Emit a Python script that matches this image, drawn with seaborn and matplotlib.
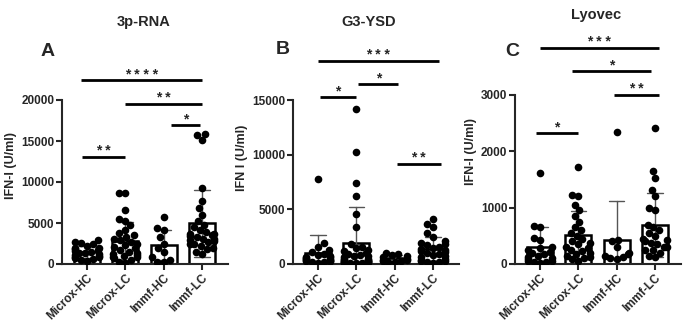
import numpy as np
import pandas as pd
import seaborn as sns
import matplotlib.pyplot as plt

#%% Data
groups = ["Microx-HC", "Microx-LC", "Immf-HC", "Immf-LC"]

# 3p-RNA
rna_microx_hc = [2900, 2700, 2600, 2400, 2200, 2000, 1900, 1800, 1700, 1600, 1500,
                 1400, 1300, 1200, 1100, 1000, 900, 800, 700, 600, 500, 400]
rna_microx_lc = [8700, 8600, 6600, 5500, 5200, 4700, 4200, 3800, 3500, 3300, 3100,
                 2900, 2700, 2500, 2300, 2100, 1900, 1700, 1500, 1300, 1100, 900,
                 700, 500, 200, 100, 1000, 1200, 800]
rna_immf_hc = [5700, 4400, 4200, 3300, 2500, 2000, 1500, 800, 500, 300, 200]
rna_immf_lc = [15900, 15700, 15100, 9300, 7700, 6800, 6000, 5200, 4800, 4500, 4100,
               3900, 3700, 3600, 3500, 3400, 3300, 3100, 3000, 2900, 2700, 2500,
               2200, 1800, 1500, 1200, 2800, 2400, 2000]

# G3-YSD
ysd_microx_hc = [7750, 1900, 1600, 1300, 1100, 900, 800, 700, 650, 600, 550, 500,
                 450, 400, 350, 300, 300, 250, 200, 150, 100]
ysd_microx_lc = [14200, 10200, 7400, 6200, 4600, 3400, 1800, 1600, 1500, 1300, 1000,
                 800, 700, 600, 500, 400, 300, 200, 100, 100, 1200, 900, 700, 500,
                 400, 300, 200, 150, 100, 250, 150, 50]
ysd_immf_hc = [1000, 900, 800, 700, 600, 500, 400, 350, 300, 250, 200, 150]
ysd_immf_lc = [4100, 3700, 3400, 2800, 2500, 2100, 1900, 1800, 1700, 1600, 1500,
               1400, 1300, 1200, 1100, 1000, 900, 800, 700, 600, 500, 400, 300,
               200, 150, 100, 250]

# Lyovec
lyo_microx_hc = [1620, 680, 650, 470, 420, 300, 280, 250, 220, 200, 180, 150, 120,
                 100, 80, 50, 20, 60, 40, 30]
lyo_microx_lc = [1720, 1230, 1200, 1050, 950, 850, 750, 650, 600, 550, 500, 450,
                 400, 380, 350, 300, 280, 250, 230, 200, 180, 150, 120, 100, 80, 50]
lyo_immf_hc = [2340, 430, 400, 300, 200, 180, 150, 120, 100, 80]
lyo_immf_lc = [2420, 1650, 1520, 1320, 1200, 1000, 950, 700, 650, 600, 550, 500,
               450, 420, 400, 380, 350, 300, 250, 200, 150, 120, 300, 250]

# significance bars: (x start, x end, height, label)
rna_sig = [(-0.15, 3.0, 22400, "****"), (1.0, 3.0, 19500, "**"),
           (2.2, 2.95, 16950, "*"), (-0.13, 1.0, 13050, "**")]
ysd_sig = [(0.0, 3.15, 18570, "***"), (0.05, 1.0, 15280, "*"),
           (1.05, 2.1, 16470, "*"), (2.05, 3.2, 9150, "**")]
lyo_sig = [(0.0, 3.1, 3836, "***"), (0.83, 2.9, 3427, "*"),
           (1.92, 3.1, 3000, "**"), (-0.1, 1.0, 2325, "*")]

#%% Style
sns.set_style("ticks")
plt.rcParams['font.family'] = ['Liberation Sans', 'DejaVu Sans']
plt.rcParams['font.weight'] = 'bold'
plt.rcParams['axes.labelweight'] = 'bold'

W, H = 685, 327
fig = plt.figure(figsize=(W / 100, H / 100), dpi=100)
axes = []


def make_df(vals):
    return pd.DataFrame({"group": np.repeat(groups, [len(v) for v in vals]),
                         "ifn": np.concatenate(vals)})


def draw_panel(left_px, tick_top, tick_px, ylim_top, step, vals, sig, ylabel):
    # axes box in pixels -> figure fraction, 0 sits at y=264
    base = 264
    ppu = (base - tick_px) / tick_top
    height = ylim_top * ppu
    ax = fig.add_axes([left_px / W, (H - base) / H, 166 / W, height / H])
    df = make_df(vals)
    sns.barplot(data=df, x="group", y="ifn", order=groups, errorbar="sd",
                width=0.68, color="white", edgecolor="black", linewidth=1.8,
                err_kws={"color": "#555555", "linewidth": 1.0}, capsize=0.4, ax=ax)
    sns.swarmplot(data=df, x="group", y="ifn", order=groups, color="black",
                  size=5.5, ax=ax, warn_thresh=1)
    ax.set_xlim(-0.65, 3.68)
    ax.set_ylim(0, ylim_top)
    ax.set_yticks(np.arange(0, tick_top + 1, step))
    ax.spines['left'].set_bounds(0, tick_top)
    ax.spines['top'].set_visible(False)
    ax.spines['right'].set_visible(False)
    for s in ['left', 'bottom']:
        ax.spines[s].set_linewidth(1.5)
    ax.tick_params(width=1.5, length=4, pad=1.5, labelsize=8.5)
    ax.set_xticks(range(4))
    ax.set_xticklabels(groups, rotation=45, ha="right", rotation_mode="anchor",
                       fontweight="bold")
    for lab in ax.get_yticklabels():
        lab.set_fontweight("bold")
    ax.set_xlabel("")
    ax.set_ylabel(ylabel, fontsize=9, fontweight="bold", labelpad=3)
    for x1, x2, y, stars in sig:
        ax.plot([x1, x2], [y, y], color="black", lw=2, clip_on=False,
                solid_capstyle="butt")
        ax.annotate(" ".join(stars), xy=((x1 + x2) / 2, y), xytext=(0, -1),
                    textcoords="offset points", ha="center", va="bottom",
                    fontsize=10, fontweight="bold", annotation_clip=False)
    axes.append(ax)
    return ax


draw_panel(62, 20000, 100, 24000, 5000,
           [rna_microx_hc, rna_microx_lc, rna_immf_hc, rna_immf_lc], rna_sig,
           "IFN-I (U/ml)")
draw_panel(293, 15000, 100, 19500, 5000,
           [ysd_microx_hc, ysd_microx_lc, ysd_immf_hc, ysd_immf_lc], ysd_sig,
           "IFN I (U/ml)")
draw_panel(515, 3000, 95, 4000, 1000,
           [lyo_microx_hc, lyo_microx_lc, lyo_immf_hc, lyo_immf_lc], lyo_sig,
           "IFN-I (U/ml)")

# panel titles and letters
for x, y, txt in [(144, 22, "3p-RNA"), (369, 22, "G3-YSD"), (596, 15, "Lyovec")]:
    fig.text(x / W, 1 - y / H, txt, ha="center", va="center", fontsize=10.5,
             fontweight="bold")
for x, y, txt in [(48, 52, "A"), (283, 50, "B"), (512, 51, "C")]:
    fig.text(x / W, 1 - y / H, txt, ha="center", va="center", fontsize=14,
             fontweight="bold")

# seaborn lays out the swarms at draw time; run it once, then squeeze the
# swarms so they stay about as wide as the bars (like the prism layout)
fig.canvas.draw()
for ax in axes:
    for coll in ax.collections:
        if "draw" in coll.__dict__:
            del coll.draw
        off = np.array(coll.get_offsets())
        if len(off) == 0:
            continue
        centre = np.round(off[:, 0])
        off[:, 0] = centre + (off[:, 0] - centre) * 0.78
        coll.set_offsets(off)

fig.savefig("out.png", dpi=100)
